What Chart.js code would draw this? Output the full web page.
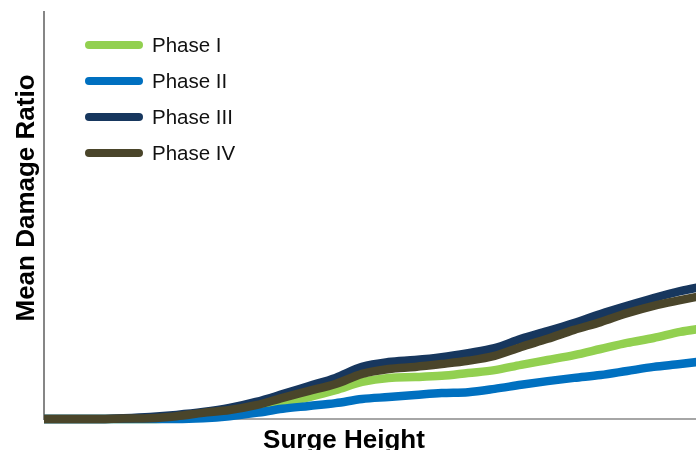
<!DOCTYPE html>
<html>
<head>
<meta charset="utf-8">
<script src="https://cdn.jsdelivr.net/npm/chart.js@4/dist/chart.umd.min.js"></script>
<style>
  html, body { margin: 0; padding: 0; background: #fff; overflow: hidden; }
  #wrap { position: relative; width: 696px; height: 450px; }
  #chart { display: block; }
  #legend { position: absolute; left: 0; top: 0; font-family: "Liberation Sans", Arial, sans-serif; }
  .lg-item { position: absolute; left: 85px; height: 24px; display: flex; align-items: center; }
  .lg-swatch { width: 58px; height: 8px; border-radius: 4px; margin-right: 9px; }
  .lg-text { font-size: 20.5px; color: #111; white-space: nowrap; }
</style>
</head>
<body>
<div id="wrap">
  <canvas id="chart" width="696" height="450"></canvas>
  <div id="legend"></div>
</div>
<script>
// ─── Data ────────────────────────────────────────────────
const surgeHeights = [0,1,2,3,4,5,6,7,8,9,10,11,12,13,14,15,16,17,18,19,20,21,22,23,24,25];

const phase1 = [0,0,0,0,0,0.002,0.007,0.015,0.025,0.039,0.054,0.071,0.091,0.101,0.103,0.106,0.113,0.120,0.133,0.145,0.157,0.172,0.187,0.199,0.214,0.224];
const phase2 = [0,0,0,0,0,0,0.002,0.007,0.015,0.025,0.032,0.039,0.049,0.054,0.059,0.064,0.066,0.074,0.084,0.093,0.101,0.108,0.118,0.128,0.135,0.143];
const phase3 = [0,0,0,0.002,0.005,0.010,0.017,0.027,0.042,0.061,0.081,0.101,0.128,0.140,0.145,0.152,0.162,0.174,0.197,0.216,0.236,0.258,0.278,0.297,0.314,0.327];
const phase4 = [0,0,0,0.001,0.002,0.007,0.015,0.022,0.034,0.052,0.069,0.086,0.111,0.123,0.128,0.135,0.143,0.155,0.177,0.197,0.219,0.238,0.260,0.278,0.292,0.305];

const seriesNames  = ['Phase I', 'Phase II', 'Phase III', 'Phase IV'];
const seriesColors = ['#92D050', '#0070C0', '#17375E', '#4A452A'];
const seriesData   = [phase1, phase2, phase3, phase4];

const xTitle = 'Surge Height';
const yTitle = 'Mean Damage Ratio';

// ─── Axis titles (placed where the original has them) ────
const titlePlugin = {
  id: 'axisTitles',
  afterDraw(chart) {
    const ctx = chart.ctx;
    ctx.save();
    ctx.fillStyle = '#000';
    ctx.font = 'bold 26px "Liberation Sans", Arial, sans-serif';
    ctx.textAlign = 'center';
    ctx.textBaseline = 'alphabetic';
    ctx.fillText(xTitle, 344, 448);
    ctx.translate(34, 198);
    ctx.rotate(-Math.PI / 2);
    ctx.fillText(yTitle, 0, 0);
    ctx.restore();
  }
};

const datasets = seriesNames.map((name, i) => ({
  label: name,
  data: surgeHeights.map((x, j) => ({ x, y: seriesData[i][j] })),
  borderColor: seriesColors[i],
  backgroundColor: seriesColors[i],
  borderWidth: 8.5,
  pointRadius: 0,
  cubicInterpolationMode: 'monotone',
  borderCapStyle: 'butt',
  borderJoinStyle: 'round',
  fill: false,
  clip: false,
  order: seriesNames.length - i   // Phase IV on top
}));

new Chart(document.getElementById('chart').getContext('2d'), {
  type: 'line',
  data: { datasets },
  options: {
    responsive: false,
    animation: false,
    layout: { padding: { left: 44, top: 12, right: 0, bottom: 31 } },
    plugins: { legend: { display: false }, tooltip: { enabled: false } },
    scales: {
      x: {
        type: 'linear', min: 0, max: 24.6,
        grid: { display: false, drawTicks: false },
        ticks: { display: false },
        border: { display: true, color: '#A6A6A6', width: 2 }
      },
      y: {
        min: 0, max: 1,
        grid: { display: false, drawTicks: false },
        ticks: { display: false },
        border: { display: true, color: '#868686', width: 2 }
      }
    }
  },
  plugins: [titlePlugin]
});

// ─── Legend ──────────────────────────────────────────────
const legendEl = document.getElementById('legend');
seriesNames.forEach((name, i) => {
  legendEl.innerHTML += `<div class="lg-item" style="top:${33 + i * 36}px">
    <div class="lg-swatch" style="background:${seriesColors[i]}"></div>
    <span class="lg-text">${name}</span></div>`;
});
</script>
</body>
</html>
